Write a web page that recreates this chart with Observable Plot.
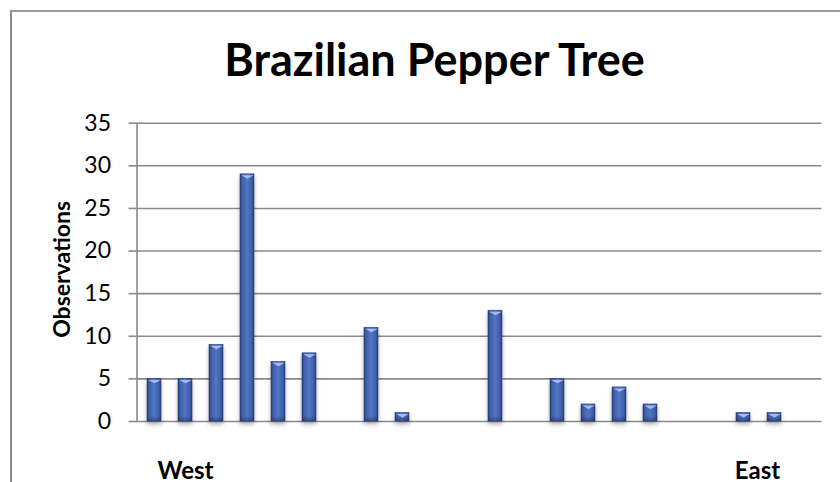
<!DOCTYPE html>
<html>
<head>
<meta charset="utf-8">
<script src="https://cdn.jsdelivr.net/npm/d3@7"></script>
<script src="https://cdn.jsdelivr.net/npm/@observablehq/plot@0.6"></script>
<style>
  html, body { margin: 0; padding: 0; background: #fff; }
  body { width: 840px; height: 482px; overflow: hidden; position: relative; font-family: Lato, "Open Sans", sans-serif; }
  #frame { position: absolute; left: 10px; top: 10px; width: 900px; height: 600px; border-left: 2px solid #8c8c8c; border-top: 2px solid #9a9a9a; box-sizing: border-box; }
  #chart { position: absolute; left: 0; top: 0; }
</style>
</head>
<body>
<div id="frame"></div>
<div id="chart"></div>
<script>
const title = "Brazilian Pepper Tree";
const yLabel = "Observations";
const sites = ["1","2","3","4","5","6","7","8","9","10","11","12","13","14","15","16","17","18","19","20","21","22"];
const observations = [5,5,9,29,7,8,0,11,1,0,0,13,0,5,2,4,2,0,0,1,1,0];
const yTicks = [0,5,10,15,20,25,30,35];
const westLabel = {site: "2", label: "West"};
const eastLabel = {site: "20", label: "East"};

const data = sites.map((s, i) => ({site: s, value: observations[i]})).filter(d => d.value > 0);

// flat downward bevel triangle at top of each bar
const bevel = {
  draw(context, size) {
    const r = Math.sqrt(size / Math.PI);
    context.moveTo(-r, 0);
    context.lineTo(r, 0);
    context.lineTo(0, r * 0.55);
    context.closePath();
  }
};

const plot = Plot.plot({
  width: 840,
  height: 482,
  marginLeft: 136.5,
  marginRight: 18.5,
  marginTop: 122.7,
  marginBottom: 61,
  style: {fontFamily: "Lato, 'Open Sans', sans-serif", background: "transparent", overflow: "visible"},
  x: {domain: sites, paddingInner: 0.55, paddingOuter: 0.275, align: 0.5, axis: null},
  y: {domain: [0, 35], axis: null},
  marks: [
    Plot.ruleY(yTicks, {stroke: "#8a8a8a", strokeWidth: 1.6}),
    Plot.axisY({ticks: yTicks, tickSize: 8, tickPadding: 18, fontSize: 23, stroke: "#8a8a8a", strokeWidth: 1.6, label: null, fill: "#000", tickFormat: d => String(d)}),
    Plot.frame({anchor: "left", stroke: "#8a8a8a", strokeWidth: 1.6}),
    Plot.barY(data, {x: "site", y: "value", fill: "url(#barGrad)", stroke: "#2c4580", strokeWidth: 0.6}),
    Plot.barY(data, {x: "site", y1: 0, y2: d => Math.min(d.value, 0.6), fill: "url(#barShade)"}),
    Plot.dot(data, {x: "site", y: "value", symbol: bevel, r: 6.3, fill: "#a4bcf3", stroke: "none", dy: 1}),
    Plot.text([title], {frameAnchor: "top", lineAnchor: "bottom", dx: -45, dy: -47.2, fontSize: 45, fontWeight: "bold", fill: "#000"}),
    Plot.text([yLabel], {frameAnchor: "left", textAnchor: "middle", rotate: -90, dx: -74.5, dy: -3, fontSize: 23, fontWeight: "bold", fill: "#000"}),
    Plot.text([westLabel], {x: "site", y: d => 0, text: "label", lineAnchor: "bottom", dy: 57, fontSize: 24, fontWeight: "bold", fill: "#000"}),
    Plot.text([eastLabel], {x: "site", y: d => 0, text: "label", lineAnchor: "bottom", dx: 14, dy: 57, fontSize: 24, fontWeight: "bold", fill: "#000"})
  ]
});

document.getElementById("chart").appendChild(plot);

const svg = d3.select(plot);
const defs = svg.insert("defs", ":first-child");
const g = defs.append("linearGradient").attr("id", "barGrad").attr("x1", 0).attr("x2", 1).attr("y1", 0).attr("y2", 0);
[[0, "#27407a"], [0.18, "#4061ab"], [0.5, "#5275c6"], [0.82, "#4061ab"], [1, "#27407a"]].forEach(([o, c]) => g.append("stop").attr("offset", o).attr("stop-color", c));
const s = defs.append("linearGradient").attr("id", "barShade").attr("x1", 0).attr("x2", 0).attr("y1", 0).attr("y2", 1);
[[0, "rgba(25,40,80,0)"], [1, "rgba(25,40,80,0.45)"]].forEach(([o, c]) => s.append("stop").attr("offset", o).attr("stop-color", c));
svg.selectAll('g[aria-label="bar"]').filter((d, i) => i === 0).style("filter", "drop-shadow(0px 3px 2px rgba(0,0,0,0.3))");
</script>
</body>
</html>
